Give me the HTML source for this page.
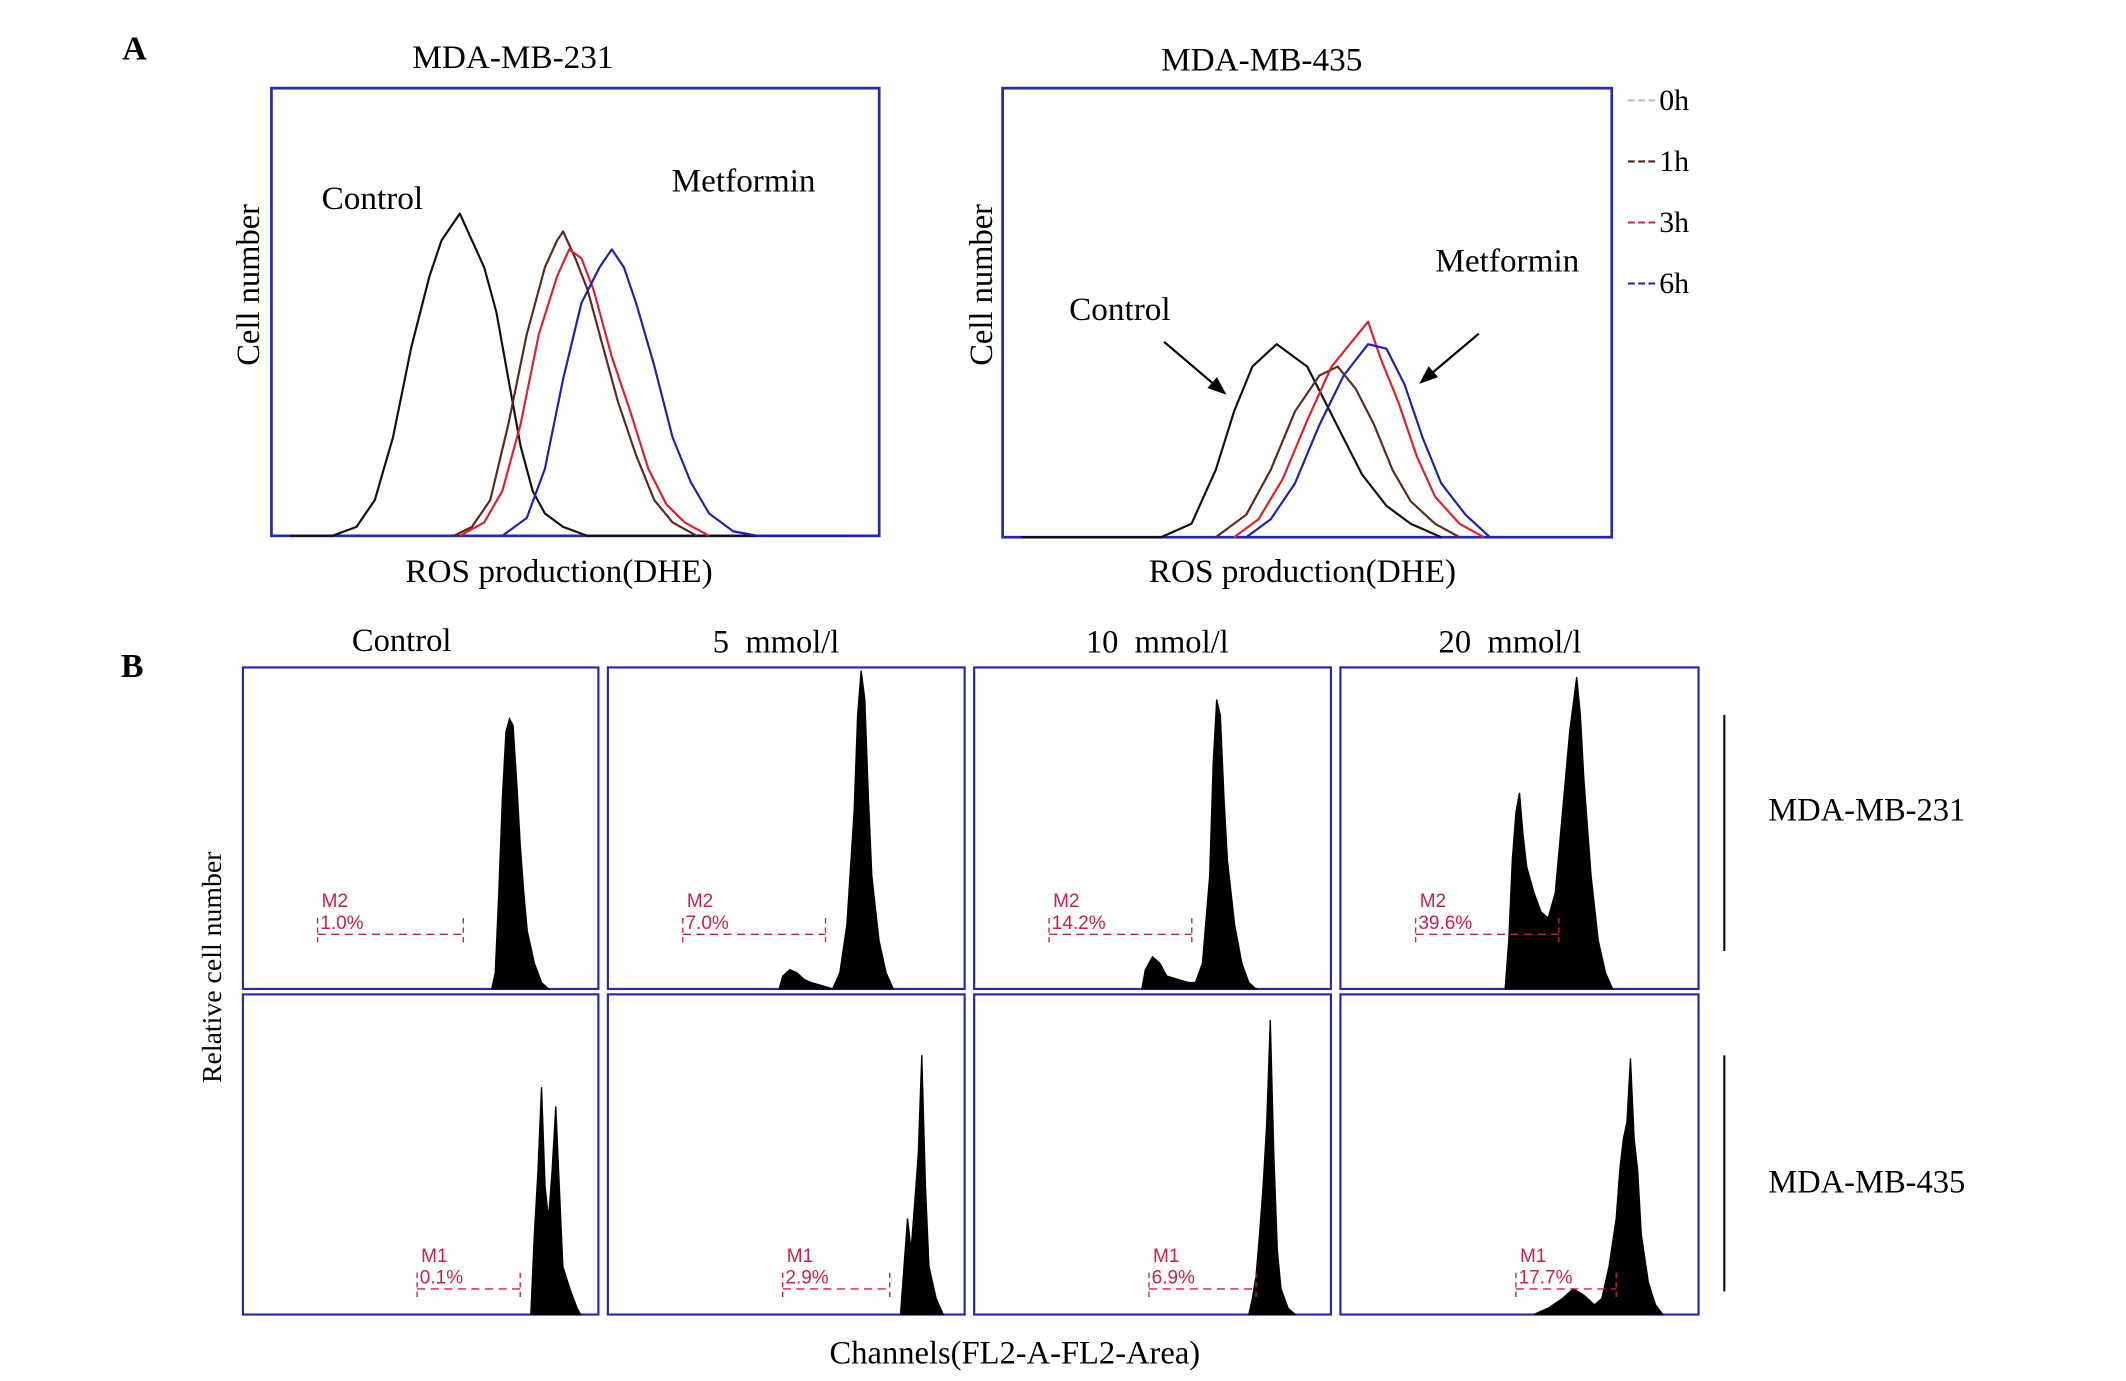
<!DOCTYPE html>
<html><head><meta charset="utf-8"><style>
html,body{margin:0;padding:0;background:#fff;}
svg{display:block;}
text{font-family:"Liberation Serif",serif;fill:#000;}
.m{font-family:"Liberation Sans",sans-serif;fill:#c8204e;font-size:14px;}
</style></head><body>
<svg id="fig" width="2126" height="1381" viewBox="0 0 1567 1018" xmlns="http://www.w3.org/2000/svg">
<text x="90" y="44" font-size="25" font-weight="bold">A</text>
<text x="89" y="499" font-size="25" font-weight="bold">B</text>
<text x="378" y="50" font-size="24.5" text-anchor="middle">MDA-MB-231</text>
<text x="930" y="52" font-size="24.5" text-anchor="middle">MDA-MB-435</text>
<text transform="translate(191,210) rotate(-90)" font-size="24" text-anchor="middle">Cell number</text>
<text transform="translate(731,210) rotate(-90)" font-size="24" text-anchor="middle">Cell number</text>
<text x="412" y="429" font-size="24.5" text-anchor="middle">ROS production(DHE)</text>
<text x="960" y="429" font-size="24.5" text-anchor="middle">ROS production(DHE)</text>
<text x="237" y="154" font-size="24.5">Control</text>
<text x="495" y="141" font-size="24.5">Metformin</text>
<text x="788" y="236" font-size="24.5">Control</text>
<text x="1058" y="200" font-size="24.5">Metformin</text>
<g stroke="#000" stroke-width="1.6" fill="#000">
<line x1="858" y1="252" x2="898" y2="286"/><polygon points="904,291 890,286 897,278" stroke="none"/></g>
<g stroke="#000" stroke-width="1.6" fill="#000">
<line x1="1090" y1="246" x2="1052" y2="278"/><polygon points="1046,283 1053,270 1060,278" stroke="none"/></g>
<g id="legend"></g>
<g id="pa"></g>
<g id="pb"></g>
<text x="296" y="480" font-size="24" text-anchor="middle">Control</text>
<text x="572" y="481" font-size="24" text-anchor="middle" xml:space="preserve">5  mmol/l</text>
<text x="853" y="481" font-size="24" text-anchor="middle" xml:space="preserve">10  mmol/l</text>
<text x="1113" y="481" font-size="24" text-anchor="middle" xml:space="preserve">20  mmol/l</text>
<text transform="translate(163,713) rotate(-90)" font-size="20.5" text-anchor="middle">Relative cell number</text>
<text x="748" y="1005" font-size="24" text-anchor="middle">Channels(FL2-A-FL2-Area)</text>
<line x1="1271" y1="527" x2="1271" y2="701" stroke="#000" stroke-width="1.5"/>
<line x1="1271" y1="778" x2="1271" y2="952" stroke="#000" stroke-width="1.5"/>
<text x="1376" y="605" font-size="24" text-anchor="middle">MDA-MB-231</text>
<text x="1376" y="879" font-size="24" text-anchor="middle">MDA-MB-435</text>
</svg>
<script>
// Panel A: [x% of channel range, y% of cell number]
const a1Control=[[3,0],[10,0],[14,2],[17,8],[20,22],[23,42],[26,58],[28,66],[30,70],[31,72],[33,66],[35,60],[37,50],[39,35],[41,20],[43,10],[45,5],[48,2],[52,0],[95,0]];
const a1h1=[[30,0],[33,2],[36,8],[39,25],[42,45],[45,60],[47,66],[48,68],[50,62],[52,55],[54,45],[57,30],[60,18],[63,8],[66,3],[70,0]];
const a1h3=[[31,0],[35,3],[38,10],[41,25],[44,45],[47,58],[49,64],[51,62],[53,55],[56,40],[59,28],[62,15],[65,7],[68,3],[72,0]];
const a1h6=[[38,0],[42,4],[45,15],[48,35],[51,52],[54,60],[56,64],[58,60],[60,52],[63,38],[66,22],[69,12],[72,5],[76,1],[80,0],[98,0]];
const a2Control=[[3,0],[26,0],[31,3],[35,15],[38,28],[41,38],[45,43],[48,40],[50,38],[53,30],[56,22],[59,14],[63,7],[67,3],[72,0]];
const a2h1=[[35,0],[40,5],[44,15],[48,28],[52,36],[55,38],[58,33],[61,25],[64,15],[67,8],[71,3],[75,0]];
const a2h3=[[38,0],[42,4],[46,13],[50,26],[54,38],[57,43],[60,48],[62,40],[65,30],[68,18],[71,9],[75,3],[79,0]];
const a2h6=[[40,0],[44,4],[48,12],[52,25],[56,36],[60,43],[63,42],[66,34],[69,22],[72,12],[76,5],[80,0]];
const legendLabels=["0h","1h","3h","6h"];
const legendColors=["#bbbbbb","#4a2020","#d0204a","#2020a0"];
// Panel B histograms [x%, y%]
const b231c=[[70,0],[71,5],[72,30],[73,60],[74,80],[75,84],[76,82],[77,65],[78,45],[79,30],[80,18],[82,8],[84,2],[86,0]];
const b231m5=[[48,0],[49,4],[51,6],[53,5],[55,3],[57,2],[60,1],[63,0],[65,5],[67,20],[69,55],[70,85],[71,99],[72,90],[73,60],[74,35],[76,15],[78,5],[80,0]];
const b231m10=[[47,0],[48,6],[50,10],[52,8],[54,4],[57,3],[60,2],[62,2],[64,8],[66,35],[67,70],[68,90],[69,85],[70,60],[71,40],[73,20],[75,8],[77,2],[79,0]];
const b231m20=[[46,0],[47,15],[48,40],[49,55],[50,61],[51,48],[52,38],[54,30],[56,24],[58,22],[60,30],[62,55],[64,80],[66,97],[67,85],[68,65],[70,35],[72,15],[74,5],[76,0]];
const b435c=[[81,0],[82,25],[83,45],[84,71],[85,40],[86,30],[87,45],[88,65],[89,40],[90,15],[92,8],[94,2],[95,0]];
const b435m5=[[82,0],[83,15],[84,30],[85,20],[86,35],[87,50],[88,81],[89,40],[90,15],[92,5],[94,0]];
const b435m10=[[77,0],[78,5],[79,12],[80,25],[81,40],[82,60],[83,92],[84,50],[85,20],[86,8],[88,2],[90,0]];
const b435m20=[[54,0],[58,2],[62,5],[65,8],[68,6],[71,3],[73,5],[75,15],[77,30],[78,45],[79,55],[80,60],[81,80],[82,55],[83,45],[84,25],[86,10],[88,3],[90,0]];
const markerNames=["M2","M2","M2","M2","M1","M1","M1","M1"];
const markerPct=["1.0%","7.0%","14.2%","39.6%","0.1%","2.9%","6.9%","17.7%"];
const markerStart=[21,21,21,21,49,49,49,49];
const markerEnd=[62,61,61,61,78,79,79,77];

const NS="http://www.w3.org/2000/svg";
function mk(tag,attrs,parent){const e=document.createElementNS(NS,tag);for(const k in attrs)e.setAttribute(k,attrs[k]);parent.appendChild(e);return e;}
function ax(x0,w){return v=>x0+v/100*w;}
function ay(y1,h){return v=>y1-v/100*h;}

const pa=document.getElementById('pa');
const boxesA=[[200,65,448,330],[739,65,449,331]];
const seriesA=[[a1Control,a1h1,a1h3,a1h6],[a2Control,a2h1,a2h3,a2h6]];
const colA=["#111","#5a2a20","#e02030","#2020b0"];
boxesA.forEach((b,i)=>{
  const r=mk('rect',{x:b[0],y:b[1],width:b[2],height:b[3],fill:'none',stroke:'#2a2aa0','stroke-width':2},pa);
  
  
  const X=ax(b[0],b[2]),Y=ay(b[1]+b[3],b[3]);
  seriesA[i].forEach((s,j)=>{
    let d='';s.forEach((p,k)=>{d+=(k?'L':'M')+X(p[0]).toFixed(1)+','+Y(p[1]).toFixed(1);});
    const pl=mk('path',{d:d,fill:'none',stroke:colA[j],'stroke-width':1.6,'stroke-linejoin':'round'},pa);
    
    
  });
});
const lg=document.getElementById('legend');
legendLabels.forEach((l,i)=>{
  const y=81+i*45;
  const ln=mk('line',{x1:1200,y1:y-7,x2:1222,y2:y-7,stroke:legendColors[i],'stroke-width':1.5,'stroke-dasharray':'5,2.5'},lg);
  
  
  const t=mk('text',{x:1223,y:y,'font-size':22},lg);t.textContent=l;
  
  
});

const pb=document.getElementById('pb');
const colX=[[179,262],[448,263],[718,263],[988,264]];
const rowY=[[492,237],[733,236]];
const histB=[b231c,b231m5,b231m10,b231m20,b435c,b435m5,b435m10,b435m20];
histB.forEach((h,idx)=>{
  const r=Math.floor(idx/4),c=idx%4;
  const bx=colX[c][0],bw=colX[c][1],by=rowY[r][0],bh=rowY[r][1];
  const fr=mk('rect',{x:bx,y:by,width:bw,height:bh,fill:'none',stroke:'#2a2aa0','stroke-width':1.6},pb);
  
  
  const X=ax(bx,bw),Y=ay(by+bh,bh);
  let d='M'+X(h[0][0]).toFixed(1)+','+Y(0).toFixed(1);
  h.forEach(p=>{d+='L'+X(p[0]).toFixed(1)+','+Y(p[1]).toFixed(1);});
  d+='L'+X(h[h.length-1][0]).toFixed(1)+','+Y(0).toFixed(1)+'Z';
  const hp=mk('path',{d:d,fill:'#000',stroke:'#000','stroke-width':1},pb);
  
  
  const my=r===0?by+bh*0.83:by+bh*0.92;
  const x1=X(markerStart[idx]),x2=X(markerEnd[idx]);
  const g=mk('g',{stroke:'#c8204e','stroke-width':1,'stroke-dasharray':'6,4',fill:'none'},pb);
  
  
  mk('line',{x1:x1,y1:my,x2:x2,y2:my},g);
  mk('line',{x1:x1,y1:my-12,x2:x1,y2:my+9,'stroke-dasharray':'4,3'},g);
  mk('line',{x1:x2,y1:my-12,x2:x2,y2:my+9,'stroke-dasharray':'4,3'},g);
  const t1=mk('text',{x:x1+3,y:my-20,'class':'m'},pb);t1.textContent=markerNames[idx];
  
  
  const t2=mk('text',{x:x1+2,y:my-4,'class':'m'},pb);t2.textContent=markerPct[idx];
  
  
});
</script>
</body></html>
